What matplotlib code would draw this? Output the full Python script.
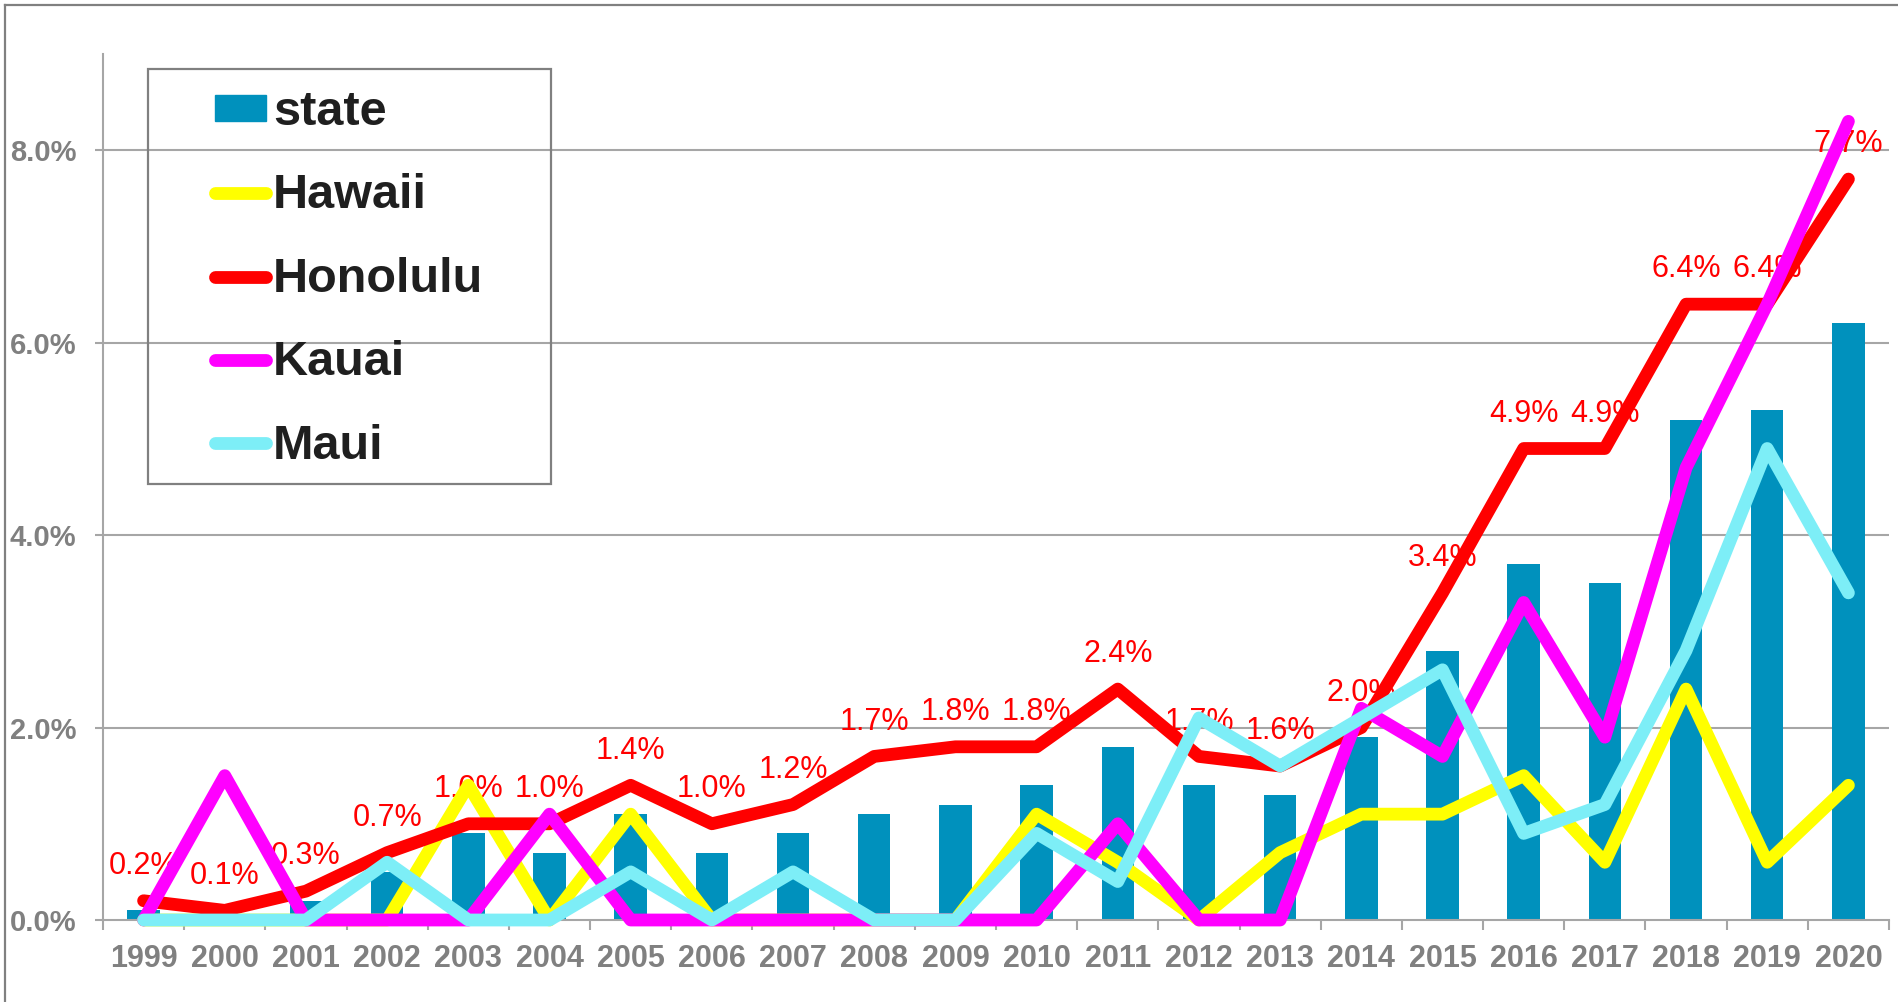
import matplotlib
matplotlib.use("Agg")
import matplotlib.pyplot as plt
from matplotlib.lines import Line2D
from matplotlib.patches import Patch, Rectangle
import numpy as np

years = [str(y) for y in range(1999, 2021)]
state = [0.1, 0.0, 0.2, 0.5, 0.9, 0.7, 1.1, 0.7, 0.9, 1.1, 1.2, 1.4, 1.8, 1.4, 1.3,
         1.9, 2.8, 3.7, 3.5, 5.2, 5.3, 6.2]
hawaii = [0.0, 0.0, 0.0, 0.0, 1.4, 0.0, 1.1, 0.0, 0.0, 0.0, 0.0, 1.1, 0.6, 0.0, 0.7,
          1.1, 1.1, 1.5, 0.6, 2.4, 0.6, 1.4]
honolulu = [0.2, 0.1, 0.3, 0.7, 1.0, 1.0, 1.4, 1.0, 1.2, 1.7, 1.8, 1.8, 2.4, 1.7, 1.6,
            2.0, 3.4, 4.9, 4.9, 6.4, 6.4, 7.7]
kauai = [0.0, 1.5, 0.0, 0.0, 0.0, 1.1, 0.0, 0.0, 0.0, 0.0, 0.0, 0.0, 1.0, 0.0, 0.0,
         2.2, 1.7, 3.3, 1.9, 4.7, 6.4, 8.3]
maui = [0.0, 0.0, 0.0, 0.6, 0.0, 0.0, 0.5, 0.0, 0.5, 0.0, 0.0, 0.9, 0.4, 2.1, 1.6,
        2.1, 2.6, 0.9, 1.2, 2.8, 4.9, 3.4]
yticks = [0, 2, 4, 6, 8]

W, H = 1899, 1002
fig = plt.figure(figsize=(W / 100, H / 100), dpi=100)
fig.patch.set_facecolor("white")

# outer frame (top & left visible)
fig.add_artist(Line2D([5 / W, 5 / W], [0, 1 - 5 / H], transform=fig.transFigure,
                      color="#808080", lw=1.6))
fig.add_artist(Line2D([5 / W, 1], [1 - 5 / H, 1 - 5 / H], transform=fig.transFigure,
                      color="#808080", lw=1.6))

ax = fig.add_axes([103 / W, 1 - 920 / H, (1889 - 103) / W, (920 - 54) / H])
x = np.arange(len(years))
grey = "#A6A6A6"
xtick_font = dict(family="Liberation Sans", weight="bold", size=22)
ytick_font = dict(family="Liberation Sans", weight="bold", size=21)

ax.bar(x, state, width=0.4, color="#0091BD", zorder=2, label="state")

series = [("Hawaii", hawaii, "#FFFF00"), ("Honolulu", honolulu, "#FF0000"),
          ("Kauai", kauai, "#FF00FF"), ("Maui", maui, "#7DEEF7")]
LW = 9.2
for i, (name, vals, col) in enumerate(series):
    ax.plot(x, vals, color=col, lw=LW, solid_capstyle="round",
            solid_joinstyle="round", zorder=4 + i, clip_on=False, label=name)

for xi, v in zip(x, honolulu):
    ax.annotate(f"{v:.1f}%", (xi, v), xytext=(0, 25), textcoords="offset points",
                ha="center", va="center", color="#FF0000",
                family="Liberation Sans", fontsize=22, zorder=3)

ax.set_xlim(-0.5, len(years) - 0.5)
ax.set_ylim(0, 9)
ax.set_yticks(yticks)
ax.set_yticklabels([f"{v:.1f}%" for v in yticks], **ytick_font, color="#808080")
ax.set_xticks(x)
ax.set_xticklabels(years, **xtick_font, color="#808080")
ax.set_xticks(np.arange(-0.5, len(years), 1.0), minor=True)
ax.tick_params(axis="x", which="major", length=0, pad=17)
ax.tick_params(axis="x", which="minor", length=7, width=1.5, color=grey)
ax.tick_params(axis="y", length=6, width=1.5, color=grey, pad=13)

for v in yticks[1:]:
    ax.axhline(v, color=grey, lw=1.5, zorder=1)
for s in ["top", "right"]:
    ax.spines[s].set_visible(False)
for s in ["left", "bottom"]:
    ax.spines[s].set_color(grey)
    ax.spines[s].set_linewidth(1.5)

# legend box
fig.add_artist(Rectangle((148 / W, 1 - 484 / H), (551 - 148) / W, (484 - 69) / H,
                         transform=fig.transFigure, fill=False, edgecolor="#808080",
                         lw=1.6, zorder=10))
handles = [Patch(color="#0091BD")] + [
    Line2D([], [], color=c, lw=LW, solid_capstyle="round") for _, _, c in series]
labels = ["state"] + [n for n, _, _ in series]
leg = fig.legend(handles, labels, loc="upper left",
                 bbox_to_anchor=(215 / W, 1 - 90 / H), bbox_transform=fig.transFigure,
                 frameon=False, borderpad=0, borderaxespad=0, handlelength=1.04,
                 handleheight=0.45, handletextpad=0.15, labelspacing=0.79,
                 prop=dict(family="Liberation Sans", weight="bold", size=35))
for t in leg.get_texts():
    t.set_color("#1F1F1F")

fig.savefig("out.png", dpi=100, facecolor="white")
